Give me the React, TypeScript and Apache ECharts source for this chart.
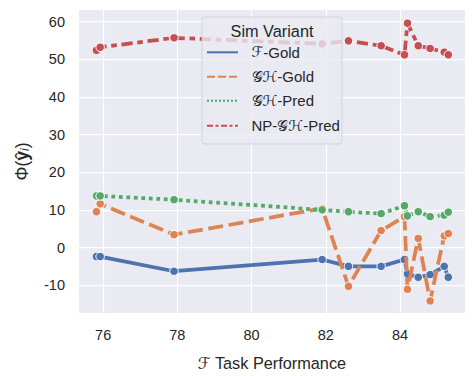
import React, { useEffect, useRef } from "react";
import * as echarts from "echarts";

const xValues = [75.82, 75.92, 77.91, 81.9, 82.61, 83.49, 84.12, 84.2, 84.49, 84.81, 85.19, 85.3];
const fGold = [-2.4, -2.4, -6.3, -3.2, -5.0, -5.0, -3.2, -7.0, -7.9, -7.2, -5.0, -7.9];
const ghGold = [9.5, 11.6, 3.4, 10.4, -10.3, 4.5, 8.2, -11.1, 2.4, -14.2, 3.1, 3.7];
const ghPred = [13.7, 13.7, 12.7, 10.0, 9.5, 9.0, 11.1, 8.4, 9.5, 8.2, 8.6, 9.4];
const npGhPred = [52.4, 53.2, 55.7, 54.1, 54.9, 53.6, 51.2, 59.6, 53.6, 52.9, 51.9, 51.2];
const seriesNames = ["ℱ-Gold", "𝒢ℋ-Gold", "𝒢ℋ-Pred", "NP-𝒢ℋ-Pred"];
const legendRich = ["{s|ℱ}-Gold", "{s|𝒢ℋ}-Gold", "{s|𝒢ℋ}-Pred", "NP-{s|𝒢ℋ}-Pred"];
const xTicks = [76, 78, 80, 82, 84];
const yTicks = [-10, 0, 10, 20, 30, 40, 50, 60];

const colors = ["#4c72b0", "#dd8452", "#55a868", "#c44e52"];
const dashes: (number[] | "solid")[] = ["solid", [15, 5.6], [3.75, 3.75], [11.25, 4.7, 5.6, 4.7]];
const legendDashes: (number[] | null)[] = [null, [8, 3], [2, 2], [6, 2.5, 3, 2.5]];
const FONT = "'Liberation Sans', Arial, sans-serif";
const SCRIPT_FONT = "'DejaVu Sans', 'DejaVu Serif', sans-serif";

export default function App() {
  const ref = useRef<HTMLDivElement>(null);
  useEffect(() => {
    document.body.style.margin = "0";
    const chart = echarts.init(ref.current!, null, { renderer: "svg" });
    const allSeries = [fGold, ghGold, ghPred, npGhPred];
    const series = allSeries.map((vals, i) => ({
      type: "line",
      name: seriesNames[i],
      data: xValues.map((x, j) => [x, vals[j]]),
      symbol: "circle",
      symbolSize: 8.5,
      showSymbol: true,
      itemStyle: { color: colors[i], borderColor: "#ffffff", borderWidth: 1 },
      lineStyle: { color: colors[i], width: 3.75, type: dashes[i], cap: "butt" },
      z: 2 + i,
    }));

    const legendTop = 17;
    const legendLeft = 202;
    const rowsY = [52.3, 76.7, 100.7, 125.7];
    const legendGraphics: any[] = [
      {
        type: "rect",
        shape: { x: legendLeft, y: legendTop, width: 140, height: 127, r: 3 },
        style: { fill: "rgba(234,234,242,0.8)", stroke: "rgba(204,204,204,0.8)", lineWidth: 1 },
        z: 100,
      },
      {
        type: "text",
        x: 272,
        y: 31,
        style: { text: "Sim Variant", fill: "#262626", font: `16.3px ${FONT}`, align: "center", verticalAlign: "middle" },
        z: 101,
      },
    ];
    rowsY.forEach((y, i) => {
      legendGraphics.push({
        type: "line",
        shape: { x1: 207, y1: y, x2: 238, y2: y },
        style: { stroke: colors[i], lineWidth: 2, lineDash: legendDashes[i] || undefined },
        z: 101,
      });
      legendGraphics.push({
        type: "text",
        x: 251.5,
        y,
        style: {
          text: legendRich[i],
          fill: "#262626",
          fontSize: 15,
          fontFamily: FONT,
          align: "left",
          verticalAlign: "middle",
          rich: {
            s: { fontSize: 15, fontFamily: SCRIPT_FONT, fill: "#262626" },
          },
        },
        z: 101,
      });
    });

    chart.setOption({
      animation: false,
      backgroundColor: "#ffffff",
      textStyle: { fontFamily: FONT },
      grid: {
        left: 79,
        right: 10,
        top: 10,
        bottom: 60,
        show: true,
        backgroundColor: "#eaeaf2",
        borderWidth: 0,
      },
      xAxis: {
        type: "value",
        min: 75.35,
        max: 85.75,
        name: "{s|ℱ} Task Performance",
        nameLocation: "middle",
        nameGap: 42,
        nameTextStyle: {
          fontSize: 16.3,
          color: "#262626",
          fontFamily: FONT,
          rich: {
            s: { fontSize: 16.3, fontFamily: SCRIPT_FONT, color: "#262626" },
          },
        },
        axisLine: { show: false },
        axisTick: { show: false, customValues: xTicks },
        axisLabel: { customValues: xTicks, fontSize: 14.5, color: "#262626", margin: 14, fontFamily: FONT },
        splitLine: { show: true, lineStyle: { color: "#ffffff", width: 1.25 } },
      },
      yAxis: {
        type: "value",
        min: -17.4,
        max: 63.1,
        name: "{a|Φ(}{b|ŷ}{c|i}{a|)}",
        nameLocation: "middle",
        nameGap: 48,
        nameTextStyle: {
          color: "#262626",
          fontFamily: FONT,
          rich: {
            a: { fontSize: 17.5, color: "#262626", fontFamily: FONT },
            b: { fontSize: 17.5, fontWeight: "bold", color: "#262626", fontFamily: FONT },
            c: { fontSize: 12, fontStyle: "italic", color: "#262626", fontFamily: FONT, verticalAlign: "bottom", padding: [7, 0, 0, 0] },
          },
        },
        axisLine: { show: false },
        axisTick: { show: false, customValues: yTicks },
        axisLabel: { customValues: yTicks, fontSize: 14.5, color: "#262626", margin: 14, fontFamily: FONT },
        splitLine: { show: true, lineStyle: { color: "#ffffff", width: 1.25 } },
      },
      series,
      graphic: legendGraphics,
    });
    return () => chart.dispose();
  }, []);
  return <div ref={ref} style={{ width: 475, height: 376 }} />;
}
